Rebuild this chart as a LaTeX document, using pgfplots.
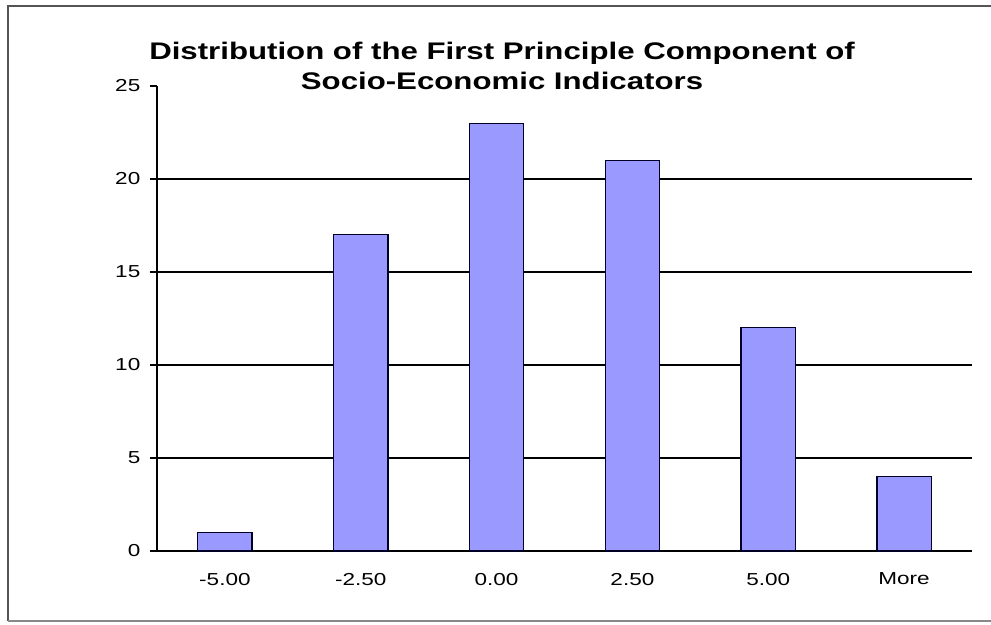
\documentclass[border=0pt]{standalone}
\usepackage{pgfplots}
\pgfplotsset{compat=1.18}
\usepackage{fontspec}
\setmainfont{Liberation Sans}[FakeStretch=1.3]
\definecolor{barfill}{HTML}{9999FF}
\definecolor{frame}{HTML}{555555}
\begin{document}
\begin{tikzpicture}[x=0.75pt,y=0.75pt]
  % canvas 991 x 624 (px units, y measured up from the bottom)
  \path[use as bounding box, fill=white] (0,0) rectangle (991,624);
  \draw[frame, line width=1.2pt] (8,3) -- (8,618) -- (991,618);
  \draw[frame!70, line width=1pt] (8,3) -- (991,3);

  \node[font=\bfseries\fontsize{18}{22}\selectfont, align=center]
    at (502,558) {Distribution of the First Principle Component of\\Socio-Economic Indicators};

  \begin{axis}[
    at={(117.75pt,54.75pt)}, anchor=south west,
    scale only axis, width=611.25pt, height=348.75pt,
    xmin=-0.5, xmax=5.5, ymin=0, ymax=25,
    axis x line*=bottom, axis y line*=left,
    axis line style={black, line width=1.1pt, -},
    ytick={0,5,...,25},
    extra y ticks={5,10,15,20},
    extra y tick labels={},
    extra y tick style={grid=major, major tick length=0pt},
    major grid style={black, line width=0.9pt},
    xtick={0,...,5},
    xticklabels={-5.00,-2.50,0.00,2.50,5.00,More},
    x tick style={draw=none},
    extra x ticks={-0.5,0.5,...,5.5},
    extra x tick labels={},
    extra x tick style={tick style={draw=black, line width=1pt}, major tick length=5pt},
    tick align=outside,
    y tick style={black, line width=1pt},
    major tick length=5pt,
    tick label style={font=\fontsize{13}{15}\selectfont, text=black},
    /pgf/number format/assume math mode=true,
    xticklabel style={yshift=-8pt},
    yticklabel style={xshift=-4pt},
    ybar, bar width=0.4,
    clip=false,
  ]
    \addplot[fill=barfill, draw=black!85!blue, line width=1pt]
      coordinates {(0,1) (1,17) (2,23) (3,21) (4,12) (5,4)};
  \end{axis}
\end{tikzpicture}
\end{document}
